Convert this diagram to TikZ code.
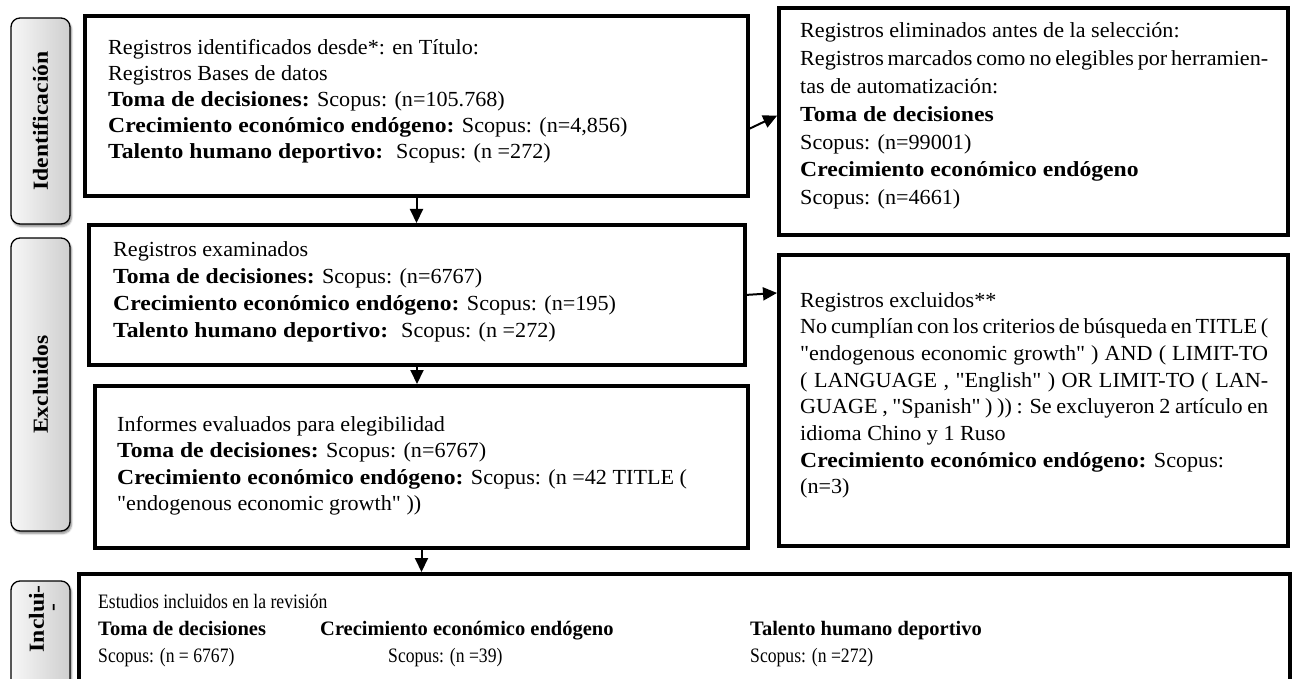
\documentclass[tikz,border=0pt]{standalone}
\usepackage{fontspec}
\setmainfont{Liberation Serif}[FakeStretch=1.03, Ligatures=TeXOff]
\newfontfamily\bfw{Liberation Serif}[FakeStretch=1.1]
\newfontfamily\plainf{Liberation Serif}
\newfontfamily\narrowf{Liberation Serif}[FakeStretch=0.86, Ligatures=TeXOff]
\newcommand{\bw}[1]{{\bfw\bfseries #1}}
\newcommand{\bn}[1]{{\plainf\bfseries #1}}
\usetikzlibrary{arrows.meta,calc,shadows.blur}
\tikzset{
  mainbox/.style={draw=black, line width=4.6pt, inner sep=0pt, outer sep=0pt, anchor=north west},
  lab/.style={draw=black, line width=1.3pt, rounded corners=9pt, left color=gray!6, right color=gray!38,
    inner sep=0pt, outer sep=0pt, anchor=north west,
    blur shadow={shadow xshift=1.5pt, shadow yshift=-2.5pt, shadow opacity=45, shadow blur steps=6}},
  labtxt/.style={rotate=90, font=\bfw\bfseries\fontsize{21.5}{15}\selectfont, inner sep=0pt},
  txt/.style={anchor=base west, inner sep=0pt, font=\fontsize{21.5}{26}\selectfont},
  txtb/.style={anchor=base west, inner sep=0pt, font=\narrowf\fontsize{20.5}{27}\selectfont},
  arr/.style={line width=2pt, -{Triangle[length=14pt,width=13pt]}, shorten >=2pt},
}
\newcommand{\jline}[1]{\makebox[468pt][s]{#1}}
\begin{document}
\begin{tikzpicture}[x=1pt,y=-1pt]
\useasboundingbox (0,0) rectangle (1295,679);
\clip (0,0) rectangle (1295,679);
% phase labels
\node[lab, minimum width=59pt, minimum height=206pt] (L1) at (11,18) {};
\node[lab, minimum width=59pt, minimum height=293pt] (L2) at (11,238) {};
\node[lab, minimum width=59pt, minimum height=140pt] (L3) at (11,581) {};
\node[labtxt] (T1) at (L1.center) {Identificación};
\node[labtxt] (T2) at (L2.center) {Excluidos};
\node[labtxt, align=right, anchor=east] (T3) at (44,585) {Inclui-\\-\hspace*{18pt}};
% boxes
\node[mainbox, minimum width=663pt, minimum height=180pt] (b1) at (85,16) {};
\node[mainbox, minimum width=656pt, minimum height=140pt] (b2) at (89,225) {};
\node[mainbox, minimum width=653pt, minimum height=162pt] (b3) at (95,386) {};
\node[mainbox, minimum width=509pt, minimum height=227pt] (r1) at (779,8) {};
\node[mainbox, minimum width=509pt, minimum height=291pt] (r2) at (779,255) {};
\node[mainbox, minimum width=1211pt, minimum height=150pt] (b4) at (79,574) {};
% texts
\node[txt, font=\fontsize{21.5}{26}\selectfont] (tb1) at (108,55) {\parbox[t]{620pt}{Registros identificados desde*: en Título:\\
Registros Bases de datos\\
\bw{Toma de decisiones:} Scopus: (n=105.768)\\
\bw{Crecimiento económico endógeno:} Scopus: (n=4,856)\\
\bw{Talento humano deportivo:}~ Scopus: (n =272)}};
\node[txt, font=\fontsize{21.5}{27}\selectfont] (tb2) at (113,256) {\parbox[t]{620pt}{Registros examinados\\
\bw{Toma de decisiones:} Scopus: (n=6767)\\
\bw{Crecimiento económico endógeno:} Scopus: (n=195)\\
\bw{Talento humano deportivo:}~ Scopus: (n =272)}};
\node[txt, font=\fontsize{21.5}{26.5}\selectfont] (tb3) at (117,431) {\parbox[t]{620pt}{Informes evaluados para elegibilidad\\
\bw{Toma de decisiones:} Scopus: (n=6767)\\
\bw{Crecimiento económico endógeno:} Scopus: (n =42 TITLE (\\
"endogenous economic growth" ))}};
\node[txt, font=\fontsize{21.5}{27.8}\selectfont] (tr1) at (800,38) {\parbox[t]{470pt}{Registros eliminados antes de la selección:\\
\jline{Registros marcados como no elegibles por herramien-}\\
tas de automatización:\\
\bw{Toma de decisiones}\\
Scopus: (n=99001)\\
\bw{Crecimiento económico endógeno}\\
Scopus: (n=4661)}};
\node[txt, font=\fontsize{21.5}{26.7}\selectfont] (tr2) at (800,307) {\parbox[t]{470pt}{Registros excluidos**\\
\jline{No cumplían con los criterios de búsqueda en TITLE (}\\
\jline{"endogenous economic growth" ) AND ( LIMIT-TO}\\
\jline{( LANGUAGE , "English" ) OR LIMIT-TO ( LAN-}\\
\jline{GUAGE , "Spanish" ) )) : Se excluyeron 2 artículo en}\\
idioma Chino y 1 Ruso\\
\bw{Crecimiento económico endógeno:} Scopus:\\
(n=3)}};
\node[txtb] (tb4) at (98,608) {Estudios incluidos en la revisión};
\node[txtb] (tb4a) at (98,635) {\bn{Toma de decisiones}};
\node[txtb] (tb4b) at (320,635) {\bn{Crecimiento económico endógeno}};
\node[txtb] (tb4c) at (750,635) {\bn{Talento humano deportivo}};
\node[txtb] (tb4d) at (98,662) {Scopus: (n = 6767)};
\node[txtb] (tb4e) at (388,662) {Scopus: (n =39)};
\node[txtb] (tb4f) at (750,662) {Scopus: (n =272)};
% connectors
\draw[arr] (b1.south) -- (b1.south |- b2.north);
\draw[arr] (b2.south) -- (b2.south |- b3.north);
\draw[arr] (b3.south) -- (b3.south |- b4.north);
\draw[arr] ($(b1.north east)!0.63!(b1.south east)$) -- ($(r1.north west)!0.47!(r1.south west)$);
\draw[arr] (b2.east) -- ($(r2.north west)!0.13!(r2.south west)$);
\end{tikzpicture}
\end{document}
